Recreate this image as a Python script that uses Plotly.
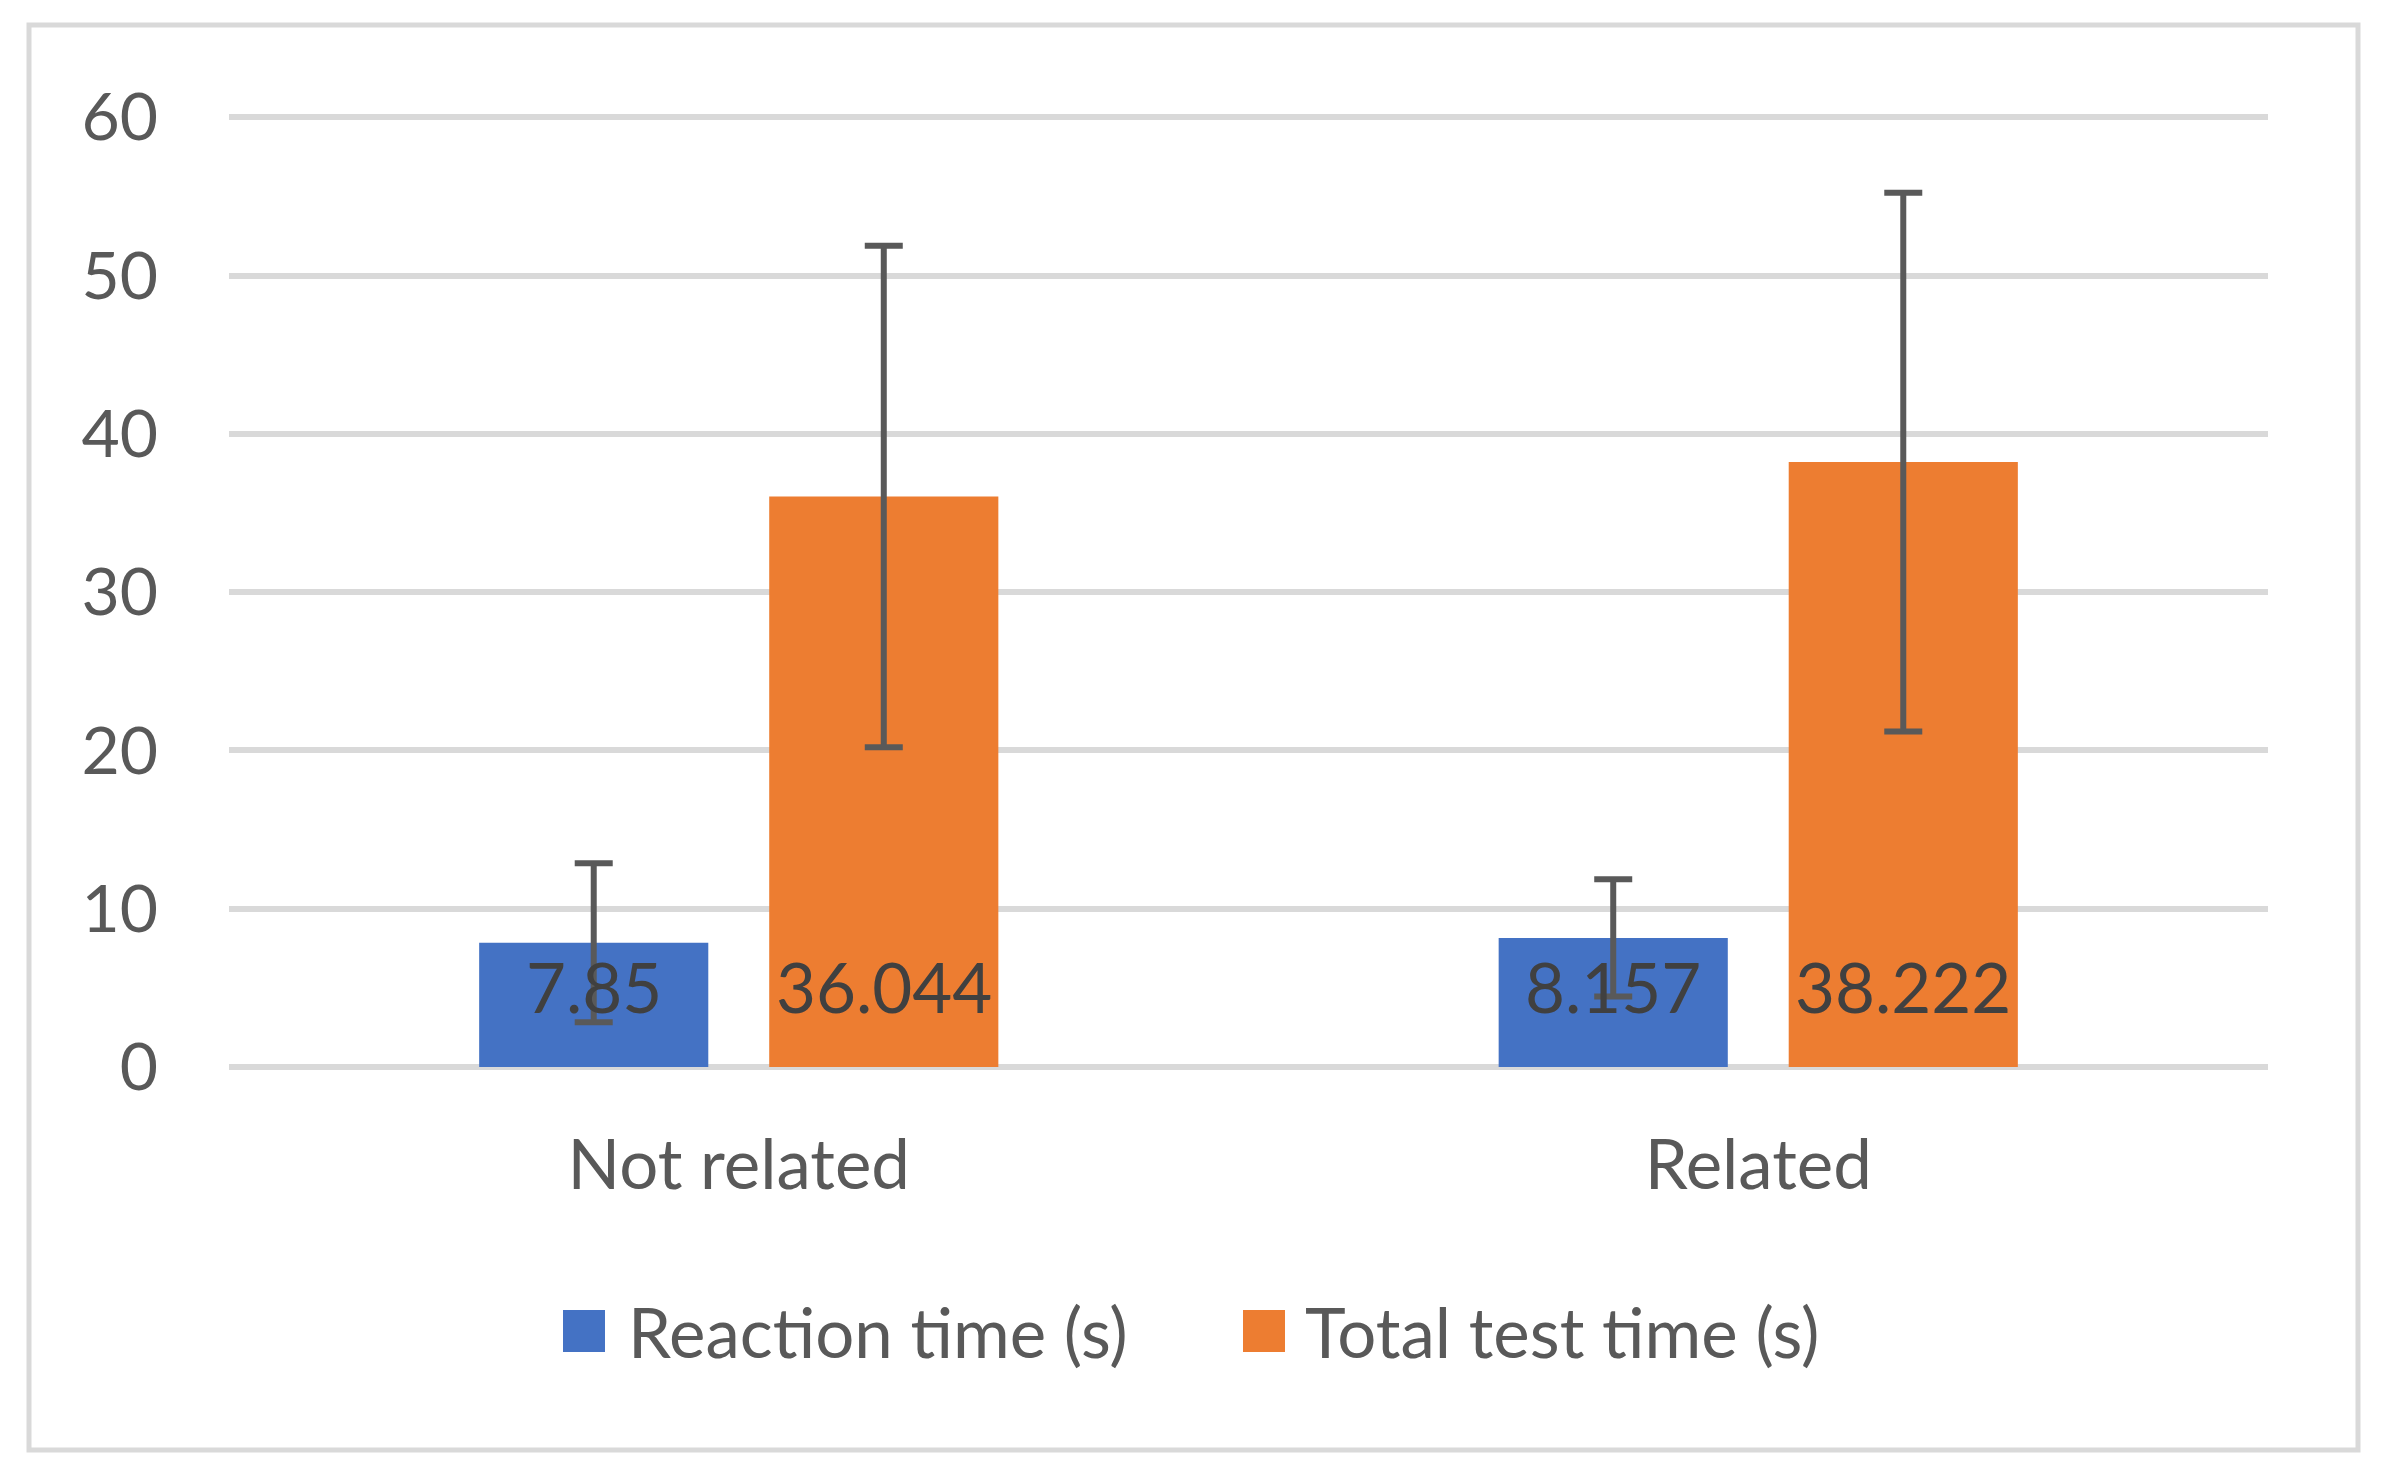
import plotly.graph_objects as go

# ---- data ----
categories = ["Not related", "Related"]
series_names = ["Reaction time (s)", "Total test time (s)"]
reaction_time = [7.85, 8.157]
total_test_time = [36.044, 38.222]
reaction_err = [5.03, 3.70]
total_err = [15.84, 17.02]
label_reaction = ["7.85", "8.157"]
label_total = ["36.044", "38.222"]
y_tickvals = [0, 10, 20, 30, 40, 50, 60]

colors = ["#4472C4", "#ED7D31"]
text_color = "#595959"
label_color = "#404040"
grid_color = "#D9D9D9"
FONT = "Lato"
FS = 69
FS_Y = 66

# ---- layout geometry (pixels) ----
W_FIG, H_FIG = 2393, 1480
PX_PER_UNIT = 15.84
Y_TOP = 60.4
L, R, B = 229, 125, 413
T = round(117 - (Y_TOP - 60) * PX_PER_UNIT)
PW = W_FIG - L - R
PH = H_FIG - T - B
BARGAP = 0.431
BARGROUPGAP = 0.21

def px_x(px):
    return (px - L) / PW

def px_y(py):
    return (H_FIG - B - py) / PH

fig = go.Figure()
values = [reaction_time, total_test_time]
errors = [reaction_err, total_err]
labels = [label_reaction, label_total]
for name, vals, errs, col in zip(series_names, values, errors, colors):
    fig.add_trace(go.Bar(
        x=categories, y=vals, name=name,
        marker=dict(color=col, line=dict(width=0)),
        error_y=dict(type="data", array=errs, visible=True,
                     color="#595959", thickness=6, width=19),
        showlegend=False,
    ))

# data labels at bar base (inside base, like the source)
cat_px = PW / len(categories)
slot_px = (1 - BARGAP) * cat_px / len(series_names)
for si, labs in enumerate(labels):
    shift = (si - (len(series_names) - 1) / 2) * slot_px
    for cat, lab in zip(categories, labs):
        fig.add_annotation(x=cat, y=0, xref="x", yref="y", text=lab,
                           showarrow=False, xshift=shift, yshift=81,
                           yanchor="middle", xanchor="center",
                           font=dict(family=FONT, size=FS, color=label_color))

# manual legend (large square swatches)
legend_items = [(563, 626), (1243, 1303)]
sw = 42
ly = 1331
for (sx, tx), name, col in zip(legend_items, series_names, colors):
    fig.add_shape(type="rect", xref="paper", yref="paper",
                  x0=px_x(sx), x1=px_x(sx + sw), y0=px_y(ly - sw / 2), y1=px_y(ly + sw / 2),
                  fillcolor=col, line=dict(width=0))
    fig.add_annotation(x=px_x(tx), y=px_y(ly), xref="paper", yref="paper",
                       text=name, showarrow=False, xanchor="left", yanchor="middle",
                       font=dict(family=FONT, size=FS, color=text_color))

# chart border
fig.add_shape(type="rect", xref="paper", yref="paper",
              x0=px_x(29), x1=px_x(2358), y0=px_y(1450), y1=px_y(25),
              line=dict(color=grid_color, width=5), fillcolor="rgba(0,0,0,0)", layer="below")

fig.update_layout(
    width=W_FIG, height=H_FIG,
    margin=dict(l=L, r=R, t=T, b=B, autoexpand=False),
    paper_bgcolor="white", plot_bgcolor="white",
    barmode="group", bargap=BARGAP, bargroupgap=BARGROUPGAP,
    font=dict(family=FONT, size=FS, color=text_color),
    showlegend=False,
)
fig.update_xaxes(showgrid=False, showline=False, ticks="", zeroline=False,
                 tickfont=dict(family=FONT, size=FS, color=text_color),
                 ticklabelstandoff=52)
fig.update_yaxes(range=[0, Y_TOP], tickvals=y_tickvals, showgrid=True,
                 gridcolor=grid_color, gridwidth=6,
                 zeroline=True, zerolinecolor=grid_color, zerolinewidth=6,
                 showline=False, ticks="",
                 tickfont=dict(family=FONT, size=FS_Y, color=text_color),
                 ticklabelstandoff=70)

fig.write_html("out.html", config={"displayModeBar": False},
               post_script="document.body.style.margin='0';")
